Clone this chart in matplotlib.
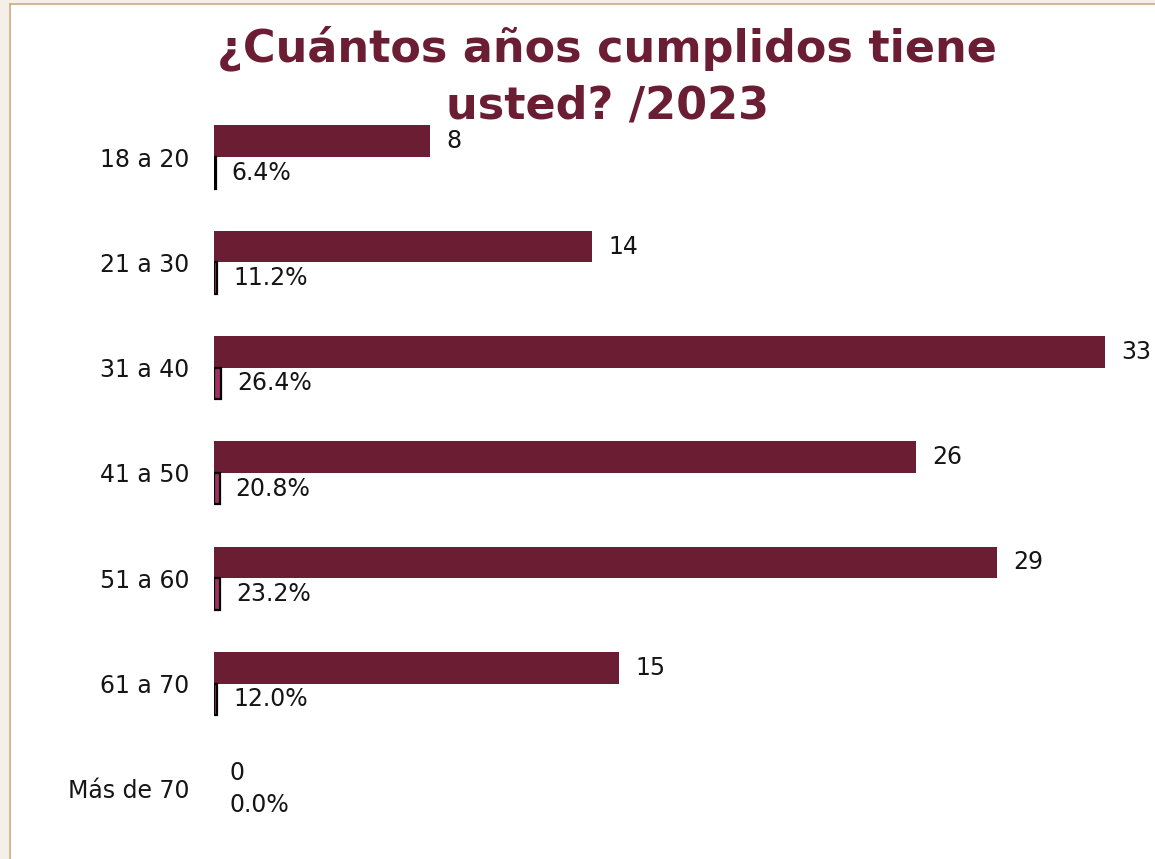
import matplotlib
matplotlib.use("Agg")
import matplotlib.pyplot as plt
from matplotlib.patches import Rectangle
from matplotlib.lines import Line2D

# Survey data: age groups, respondent counts and share of total
age_groups = ["18 a 20", "21 a 30", "31 a 40", "41 a 50", "51 a 60", "61 a 70", "Más de 70"]
counts = [8, 14, 33, 26, 29, 15, 0]
shares = [0.064, 0.112, 0.264, 0.208, 0.232, 0.120, 0.0]
title_lines = ["¿Cuántos años cumplidos tiene", "usted? /2023"]

MAROON = "#6A1D33"
PINK = "#A33063"
TEXT = "#151515"
FONT = "DejaVu Sans"

W, H = 1155, 859
fig = plt.figure(figsize=(W / 100, H / 100), dpi=100)
fig.patch.set_facecolor("white")

# Slide frame: beige margin with a tan border line on top and left
fig.add_artist(Rectangle((0, 0), 9 / W, 1, transform=fig.transFigure,
                         facecolor="#F4F0E8", edgecolor="none", zorder=0))
fig.add_artist(Rectangle((0, 1 - 3 / H), 1, 3 / H, transform=fig.transFigure,
                         facecolor="#F4F0E8", edgecolor="none", zorder=0))
fig.add_artist(Line2D([9.5 / W, 9.5 / W], [0, 1 - 3.5 / H], transform=fig.transFigure,
                      color="#C9AC82", lw=1.2))
fig.add_artist(Line2D([9.5 / W, 1], [1 - 3.5 / H, 1 - 3.5 / H], transform=fig.transFigure,
                      color="#C9AC82", lw=1.2))

# Axes placement (pixel based)
x0_px, x1_px = 214, 214 + 34 * 27
row_px = 105.3
top_px = 157 - 0.6 * row_px
bot_px = top_px + 7.2 * row_px
ax = fig.add_axes([x0_px / W, 1 - bot_px / H, (x1_px - x0_px) / W, (bot_px - top_px) / H])
ax.set_xlim(0, 34)
ax.set_ylim(6.6, -0.6)

ypos = list(range(len(age_groups)))
bh = 0.3
ax.barh([y - bh / 2 for y in ypos], counts, height=bh, color=MAROON, edgecolor="none")
ax.barh([y + bh / 2 for y in ypos], shares, height=bh, color=PINK, edgecolor="black",
        linewidth=[1.6 if s > 0 else 0 for s in shares])

for y, c, s in zip(ypos, counts, shares):
    ax.annotate(f"{c}", xy=(c, y - bh / 2), xytext=(11.5, 0), textcoords="offset points",
                ha="left", va="center", fontsize=17, color=TEXT, family=FONT)
    ax.annotate(f"{s * 100:.1f}%", xy=(s, y + bh / 2), xytext=(11.5, 0),
                textcoords="offset points", ha="left", va="center",
                fontsize=17, color=TEXT, family=FONT)

ax.set_yticks(ypos)
ax.set_yticklabels(age_groups, fontsize=17, color=TEXT, family=FONT)
ax.tick_params(axis="y", length=0, pad=18)
ax.set_xticks([])
for sp in ax.spines.values():
    sp.set_visible(False)

# Two-line title
fig.text(607 / W, 1 - 61 / H, title_lines[0], ha="center", va="baseline",
         fontsize=32, fontweight="bold", color=MAROON, family=FONT)
fig.text(607 / W, 1 - 118 / H, title_lines[1], ha="center", va="baseline",
         fontsize=32, fontweight="bold", color=MAROON, family=FONT)

fig.savefig("out.png", dpi=100, facecolor=fig.get_facecolor())
